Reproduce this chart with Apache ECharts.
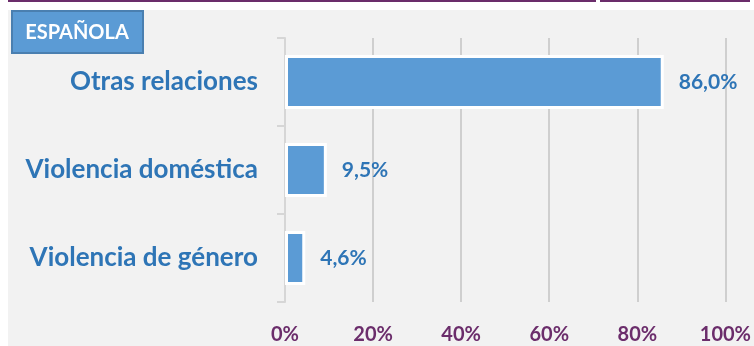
<!DOCTYPE html>
<html><head><meta charset="utf-8">
<script src="https://cdn.jsdelivr.net/npm/echarts@6/dist/echarts.min.js"></script>
<style>html,body{margin:0;padding:0;background:#fff}#c{width:754px;height:346px}</style>
</head><body><div id="c"></div>
<script>
const categories = ['Otras relaciones', 'Violencia doméstica', 'Violencia de género'];
const values = [86.0, 9.5, 4.6];
const xTicks = [0, 20, 40, 60, 80, 100];
const title = 'ESPAÑOLA';

const chart = echarts.init(document.getElementById('c'), null, {renderer: 'canvas'});
const font = 'Lato, "Open Sans", sans-serif';
chart.setOption({
  animation: false,
  backgroundColor: '#ffffff',
  graphic: [
    {type: 'rect', shape: {x: 8, y: 10, width: 746, height: 336}, style: {fill: '#f2f2f2'}, z: -10},
    {type: 'rect', shape: {x: 8, y: 0, width: 588, height: 2}, style: {fill: '#6b2d6b'}},
    {type: 'rect', shape: {x: 600, y: 0, width: 150, height: 2}, style: {fill: '#6b2d6b'}},
    {type: 'rect', shape: {x: 12, y: 11, width: 131, height: 42}, style: {fill: '#5b9bd5', stroke: '#4a7fb0', lineWidth: 2}},
    {type: 'text', x: 77, y: 33, style: {text: title, fill: '#ffffff', font: 'bold 20px ' + font, align: 'center', verticalAlign: 'middle'}}
  ],
  grid: {left: 285, right: 26, top: 38, bottom: 44, containLabel: false},
  xAxis: {
    type: 'value', min: 0, max: 100, interval: 20,
    axisLine: {show: false}, axisTick: {show: false},
    splitLine: {show: true, lineStyle: {color: '#c3c3c3', width: 1.5}},
    axisLabel: {formatter: v => xTicks.includes(v) ? v + '%' : '', color: '#6b2d6b', fontWeight: 'bold', fontSize: 20, fontFamily: font, margin: 23}
  },
  yAxis: {
    type: 'category', data: categories, inverse: true,
    axisLine: {show: true, lineStyle: {color: '#d6d6d6', width: 2}},
    axisTick: {show: true, length: 8, lineStyle: {color: '#d6d6d6', width: 2}},
    axisLabel: {color: '#2e75b6', fontWeight: 'bold', fontSize: 26, fontFamily: font, margin: 27}
  },
  series: [{
    type: 'bar', data: values, barWidth: 54,
    itemStyle: {color: '#5b9bd5', borderColor: '#ffffff', borderWidth: 3},
    label: {show: true, position: 'right', distance: 15, formatter: p => p.value.toFixed(1).replace('.', ',') + '%', color: '#2e75b6', fontWeight: 'bold', fontSize: 21, fontFamily: font}
  }]
});
</script></body></html>
